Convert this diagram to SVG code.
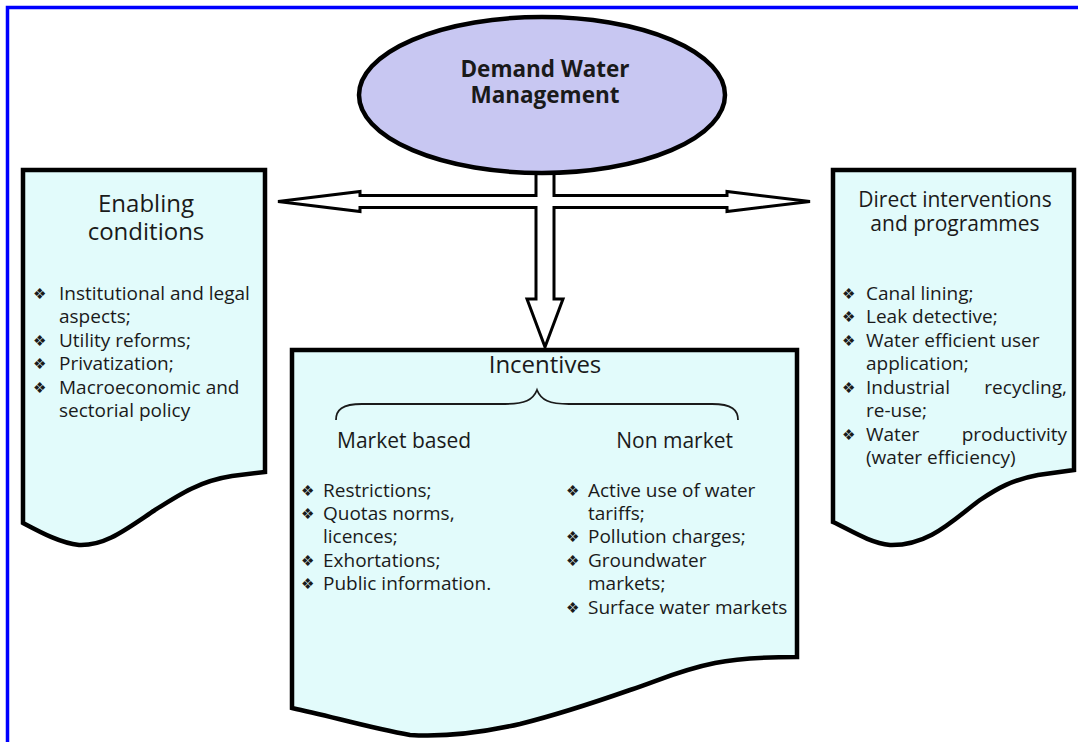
<svg xmlns="http://www.w3.org/2000/svg" width="1078" height="742" viewBox="0 0 1078 742">
<style>
.box{fill:#e2fbfb;stroke:#000;stroke-width:4.5;stroke-linejoin:miter}
.t{font-family:"Open Sans","Liberation Sans",sans-serif;fill:#1a1a1a}
.ti{font-size:24px}
.tr{font-size:21px}
.li{font-size:19px}
.sub{font-size:21px}
.b{font-family:"DejaVu Sans",sans-serif;font-size:15px;fill:#1a1a1a}
.arr{fill:#fff;stroke:#000;stroke-width:3;stroke-linejoin:miter}
</style>
<rect width="1078" height="742" fill="#fff"/>
<path d="M7.5,742 V7.5 H1078" fill="none" stroke="#0000ff" stroke-width="3.5"/>
<g id="connectors">
<polygon class="arr" points="536,165 554,165 554,195.5 727,195.5 727,191.5 810,201.5 727,211.5 727,207.5 554,207.5 554,299 563,299 545,347 527,299 536,299 536,207.5 360,207.5 360,211.5 278,201.5 360,191.5 360,195.5 536,195.5"/>
</g>
<g id="demand">
<ellipse cx="542" cy="95" rx="183" ry="78" fill="#c8c7f2" stroke="#000" stroke-width="4.5"/>
<text class="t" x="545" y="77" font-size="22.5" font-weight="bold" text-anchor="middle">Demand Water</text>
<text class="t" x="545" y="103" font-size="22.5" font-weight="bold" text-anchor="middle">Management</text>
</g>
<g id="enabling">
<path class="box" d="M23,170 H265 V472 L232,476 C200,481 180,494 155,510 C125,530 105,546 79,545 C60,543 40,532 23,523 Z"/>
<text class="t ti" x="146" y="212" text-anchor="middle">Enabling</text>
<text class="t ti" x="146" y="240" text-anchor="middle">conditions</text>
<text class="b" x="33" y="299">❖</text>
<text class="t li" x="59" y="300">Institutional and legal</text>
<text class="t li" x="59" y="323">aspects;</text>
<text class="b" x="33" y="346">❖</text>
<text class="t li" x="59" y="347">Utility reforms;</text>
<text class="b" x="33" y="369">❖</text>
<text class="t li" x="59" y="370">Privatization;</text>
<text class="b" x="33" y="393">❖</text>
<text class="t li" x="59" y="394">Macroeconomic and</text>
<text class="t li" x="59" y="417">sectorial policy</text>
</g>
<g id="direct">
<path class="box" d="M833,170 H1074 V470 L1038,475 C1012,480 998,488 980,500 C955,518 930,546 890,545 C870,543 850,530 833,522 Z"/>
<text class="t tr" x="955" y="207" text-anchor="middle">Direct interventions</text>
<text class="t tr" x="955" y="231" text-anchor="middle">and programmes</text>
<text class="b" x="842" y="299">❖</text>
<text class="t li" x="866" y="300">Canal lining;</text>
<text class="b" x="842" y="322">❖</text>
<text class="t li" x="866" y="323">Leak detective;</text>
<text class="b" x="842" y="346">❖</text>
<text class="t li" x="866" y="347">Water efficient user</text>
<text class="t li" x="866" y="370">application;</text>
<text class="b" x="842" y="393">❖</text>
<text class="t li" x="866" y="394">Industrial</text>
<text class="t li" x="1067" y="394" text-anchor="end">recycling,</text>
<text class="t li" x="866" y="417">re-use;</text>
<text class="b" x="842" y="440">❖</text>
<text class="t li" x="866" y="441">Water</text>
<text class="t li" x="1067" y="441" text-anchor="end">productivity</text>
<text class="t li" x="866" y="464">(water efficiency)</text>
</g>
<g id="incentives">
<path class="box" d="M292,350 H797 V657 C760,657 735,659 715,663 C680,670 660,680 630,690 C590,704 560,714 520,724 C480,733 440,737 410,735 C370,728 330,716 292,708 Z"/>
<text class="t ti" x="545" y="373" text-anchor="middle">Incentives</text>
<path d="M336,420 C336,410 342,404 362,404 L505,404 C525,404 533,400 537,390 C541,400 549,404 569,404 L712,404 C732,404 738,410 738,420" fill="none" stroke="#1a1a1a" stroke-width="1.8"/>
<text class="t sub" x="337" y="448">Market based</text>
<text class="t sub" x="733" y="448" text-anchor="end">Non market</text>
<text class="b" x="301" y="496">❖</text>
<text class="t li" x="323" y="497">Restrictions;</text>
<text class="b" x="301" y="519">❖</text>
<text class="t li" x="323" y="520">Quotas norms,</text>
<text class="t li" x="323" y="543">licences;</text>
<text class="b" x="301" y="566">❖</text>
<text class="t li" x="323" y="567">Exhortations;</text>
<text class="b" x="301" y="589">❖</text>
<text class="t li" x="323" y="590">Public information.</text>
<text class="b" x="566" y="496">❖</text>
<text class="t li" x="588" y="497">Active use of water</text>
<text class="t li" x="588" y="520">tariffs;</text>
<text class="b" x="566" y="542">❖</text>
<text class="t li" x="588" y="543">Pollution charges;</text>
<text class="b" x="566" y="566">❖</text>
<text class="t li" x="588" y="567">Groundwater</text>
<text class="t li" x="588" y="590">markets;</text>
<text class="b" x="566" y="613">❖</text>
<text class="t li" x="588" y="614">Surface water markets</text>
</g>
</svg>
